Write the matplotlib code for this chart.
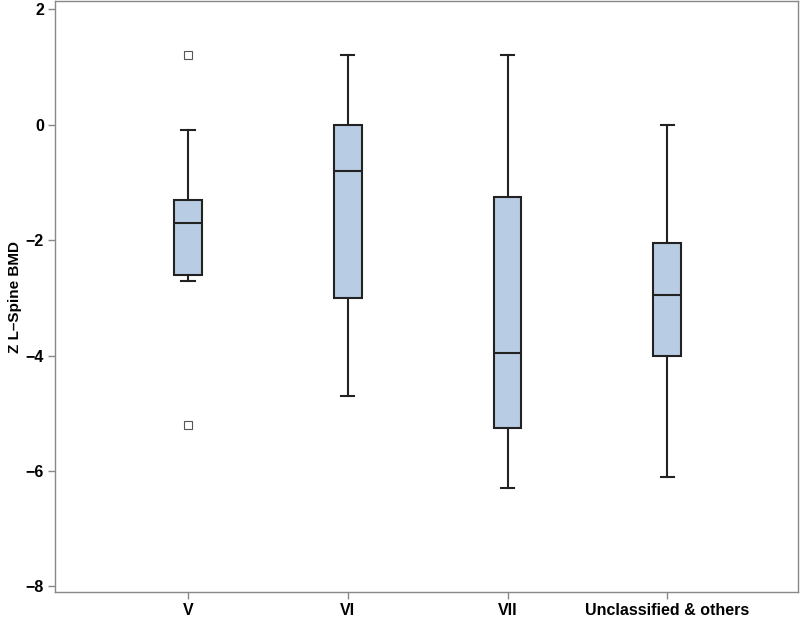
import matplotlib
matplotlib.use("Agg")
import matplotlib.pyplot as plt

categories = ["V", "VI", "VII", "Unclassified & others"]
whisker_low = [-2.7, -4.7, -6.3, -6.1]
q1 = [-2.6, -3.0, -5.25, -4.0]
median = [-1.7, -0.8, -3.95, -2.95]
q3 = [-1.3, 0.0, -1.25, -2.05]
whisker_high = [-0.1, 1.2, 1.2, 0.0]
outliers = [[1.2, -5.2], [], [], []]
yticks = [-8, -6, -4, -2, 0, 2]

plt.rcParams['font.family'] = ['Liberation Sans', 'DejaVu Sans']

fig = plt.figure(figsize=(8, 6.2), dpi=100)
ax = fig.add_axes([0.069, 0.045, 0.929, 0.953])

stats = []
for i, c in enumerate(categories):
    stats.append(dict(label=c, whislo=whisker_low[i], q1=q1[i], med=median[i],
                      q3=q3[i], whishi=whisker_high[i], fliers=outliers[i]))

positions = list(range(1, len(categories) + 1))
ax.bxp(stats, positions=positions, widths=0.175, patch_artist=True,
       showfliers=True,
       boxprops=dict(facecolor="#b8cce4", edgecolor="#222222", linewidth=1.5),
       medianprops=dict(color="#222222", linewidth=1.5),
       whiskerprops=dict(color="#222222", linewidth=1.5),
       capprops=dict(color="#222222", linewidth=1.5),
       capwidths=0.085,
       flierprops=dict(marker="s", markersize=6, markerfacecolor="white",
                       markeredgecolor="#555555", markeredgewidth=0.8,
                       linestyle="none"))

ax.set_xlim(0.17, 4.82)
ax.set_ylim(-8.1, 2.14)
ax.set_yticks(yticks)
ax.set_yticklabels([("\u2212" + str(-t)) if t < 0 else str(t) for t in yticks],
                   fontsize=11.5, fontweight="bold")
ax.set_xticks(positions)
ax.set_xticklabels(categories, fontsize=11.5, fontweight="bold")
ax.set_ylabel("Z L\u2013Spine BMD", fontsize=11, fontweight="bold", labelpad=3)

for s in ax.spines.values():
    s.set_color("#888888")
    s.set_linewidth(1.0)
ax.tick_params(axis="both", colors="#888888", length=5, width=1,
               labelcolor="black")
ax.tick_params(axis="x", pad=3)
ax.tick_params(axis="y", pad=3)

fig.savefig("out.png", dpi=100)
